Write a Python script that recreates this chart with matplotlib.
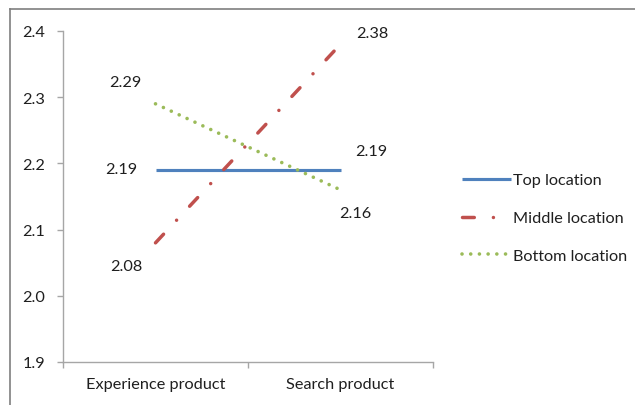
import matplotlib
matplotlib.use("Agg")
import matplotlib.pyplot as plt
from matplotlib.lines import Line2D

categories = ["Experience product", "Search product"]
series_names = ["Top location", "Middle location", "Bottom location"]
top_values = [2.19, 2.19]
middle_values = [2.08, 2.38]
bottom_values = [2.29, 2.16]
y_ticks = [1.9, 2.0, 2.1, 2.2, 2.3, 2.4]

plt.rcParams["font.family"] = ["Lato", "DejaVu Sans"]
TEXT = "#1f1f1f"
AXIS = "#a6a6a6"
FS = 11.7

fig = plt.figure(figsize=(6.35, 4.06), dpi=100)
ax = fig.add_axes([63 / 635, 43 / 406, 370 / 635, 331 / 406])

x = list(range(len(categories)))
styles = [
    dict(color="#4F81BD", linestyle="-", solid_capstyle="butt", lw=2.25),
    dict(color="#C0504D", linestyle=(0, (3.4, 5.5, 0.01, 5.5)), dash_capstyle="round", lw=2.5),
    dict(color="#9BBB59", linestyle=(0, (0.01, 2.4)), dash_capstyle="round", lw=2.6),
]
all_values = [top_values, middle_values, bottom_values]
for name, vals, st in zip(series_names, all_values, styles):
    ax.plot(x, vals, label=name, **st)

# data labels, offsets in points from each point
offsets = [
    [(-25, 1), (22, 14)],
    [(-21, -17), (23, 8)],
    [(-22, 16), (11, -17)],
]
for vals, offs in zip(all_values, offsets):
    for xi, v, (dx, dy) in zip(x, vals, offs):
        ax.annotate(f"{v:.2f}", (xi, v), xytext=(dx, dy), textcoords="offset points",
                    ha="center", va="center", fontsize=FS, color=TEXT)

ax.set_xlim(-0.5, 1.5)
ax.set_ylim(1.9, 2.4)
ax.set_yticks(y_ticks)
ax.set_yticklabels([f"{t:.1f}" for t in y_ticks])
ax.set_xticks(x)
ax.set_xticklabels(categories)
ax.set_xticks([-0.5, 0.5, 1.5], minor=True)

for s in ["top", "right"]:
    ax.spines[s].set_visible(False)
for s in ["left", "bottom"]:
    ax.spines[s].set_color(AXIS)
    ax.spines[s].set_linewidth(1.0)

ax.tick_params(axis="y", length=4, width=1.0, color=AXIS, pad=9, labelsize=FS, labelcolor=TEXT)
ax.tick_params(axis="x", which="major", length=0, pad=11, labelsize=FS, labelcolor=TEXT)
ax.tick_params(axis="x", which="minor", length=4, width=1.0, color=AXIS)

fig.legend(loc="center left", bbox_to_anchor=(462 / 635, 1 - 219 / 406), frameon=False,
           fontsize=FS, handlelength=3.0, handletextpad=0.15, labelspacing=1.45,
           borderpad=0, borderaxespad=0, labelcolor=TEXT)

# outer chart border
fig.add_artist(Line2D([10 / 635, 10 / 635], [0, 1 - 10 / 406], transform=fig.transFigure,
                      color="#7f7f7f", lw=1.2))
fig.add_artist(Line2D([10 / 635, 1], [1 - 10 / 406, 1 - 10 / 406], transform=fig.transFigure,
                      color="#7f7f7f", lw=1.2))

fig.savefig("out.png", dpi=100)
